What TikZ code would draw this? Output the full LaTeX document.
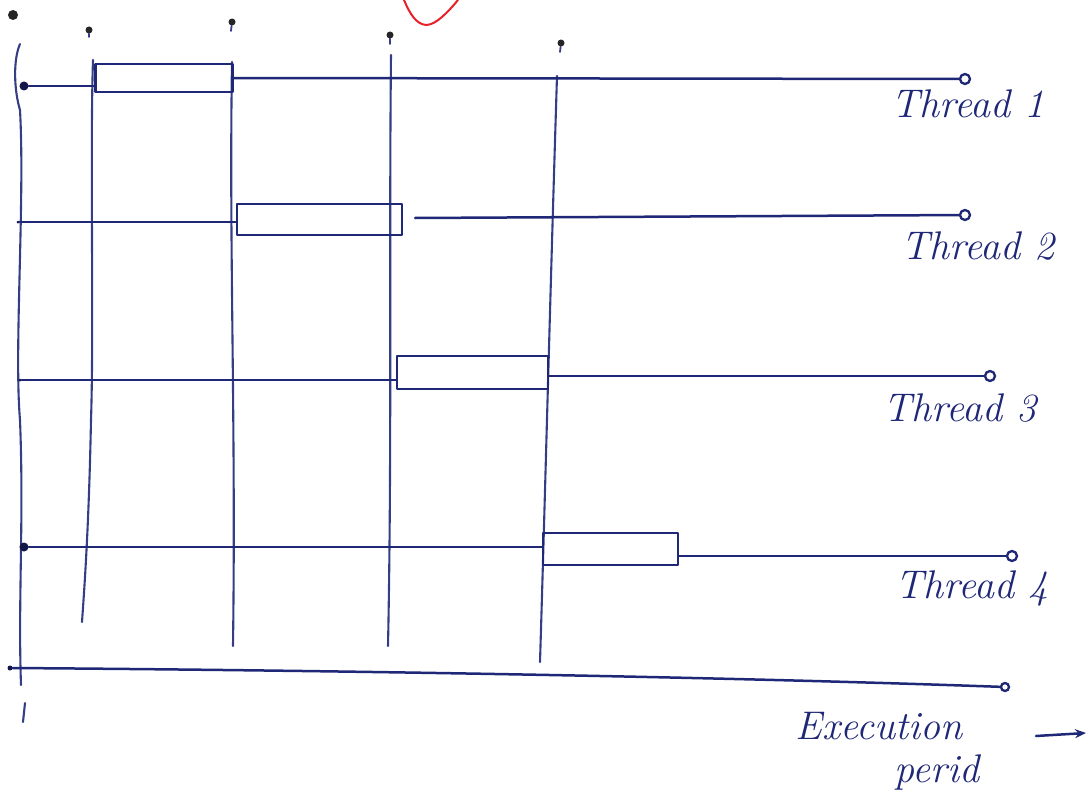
\documentclass[tikz,border=0pt]{standalone}
\usepackage{fontspec}
\usetikzlibrary{arrows.meta}
\definecolor{inkblue}{HTML}{1F2777}
\definecolor{inkred}{HTML}{E8202A}
\begin{document}
\begin{tikzpicture}[x=1pt,y=-1pt,
  ink/.style={draw=inkblue, line width=2.5pt, line cap=round, line join=round},
  grid/.style={draw=inkblue!90, line width=2.1pt, line cap=round},
  tbox/.style={ink, line width=2.8pt, rectangle, inner sep=0pt, fill=none},
  startdot/.style={circle, fill=inkblue!60!black, inner sep=0pt, minimum size=9pt},
  enddot/.style={circle, draw=inkblue, line width=2.3pt, fill=white, inner sep=0pt, minimum size=10pt},
  tick/.style={circle, fill=black!85, inner sep=0pt, minimum size=7pt},
  hand/.style={text=inkblue, font=\fontsize{40}{46}\selectfont\itshape, inner sep=0pt}]
\useasboundingbox (0,0) rectangle (1090,792);
% red check mark
\draw[inkred, line width=2pt] (404,0) .. controls (410,14) and (416,24) .. (426,25) .. controls (436,25) and (448,12) .. (458,0);
% vertical time lines
\node[tick, minimum size=10pt] (k0) at (13,15) {};
\node[tick] (k1) at (89,30) {};
\node[tick] (k2) at (232,22) {};
\node[tick] (k3) at (390,35) {};
\node[tick] (k4) at (561,43) {};
\coordinate (v0t) at (20,44);  \coordinate (v0b) at (21,685);
\coordinate (v1t) at (93,60);  \coordinate (v1b) at (82,622);
\coordinate (v2t) at (232,62); \coordinate (v2b) at (233,646);
\coordinate (v3t) at (391,55); \coordinate (v3b) at (388,646);
\coordinate (v4t) at (557,76); \coordinate (v4b) at (540,662);
\coordinate (v0x) at (25,703); \coordinate (v0y) at (23,722);
\draw[grid] (v0t) .. controls (13,60) and (14,90) .. (20,110) .. controls (25,200) and (14,350) .. (20,420) .. controls (24,520) and (18,600) .. (v0b);
\draw[grid] (v0x) -- (v0y);
\draw[grid] (v1t) .. controls (90,150) and (94,330) .. (91,420) .. controls (89,520) and (85,580) .. (v1b);
\draw[grid] (v2t) .. controls (229,250) and (236,420) .. (v2b);
\draw[grid] (v3t) .. controls (389,250) and (392,450) .. (v3b);
\draw[grid] (v4t) .. controls (550,300) and (545,500) .. (v4b);
\draw[grid, line width=1.8pt] (k1) -- ++(0,7);
\draw[grid, line width=1.8pt] (k2) -- ++(-1,9);
\draw[grid, line width=1.8pt] (k3) -- ++(0,9);
\draw[grid, line width=1.8pt] (k4) -- ++(-1,9);
% Thread 1
\node[startdot] (s1) at (24,86) {};
\node[tbox, minimum width=137pt, minimum height=28pt] (b1) at (164,78) {};
\coordinate (e1) at (965,79);
\draw[ink] (s1) -- (b1.west |- s1);
\draw[ink] (b1.east) -- (e1);
\node[enddot] (d1) at (e1) {};
\node[hand] (l1) at (968,104) {Thread 1};
% Thread 2
\node[startdot, minimum size=3pt] (s2) at (18,222) {};
\node[tbox, minimum width=165pt, minimum height=31pt] (b2) at (319.5,219.5) {};
\coordinate (g2) at (415,218);
\coordinate (e2) at (965,215);
\draw[ink] (s2) -- (b2.west |- s2);
\draw[ink] (g2) -- (e2);
\node[enddot] (d2) at (e2) {};
\node[hand] (l2) at (978,246) {Thread 2};
% Thread 3
\node[startdot, minimum size=3pt] (s3) at (20,380) {};
\node[tbox, minimum width=151pt, minimum height=33pt] (b3) at (472.5,372.5) {};
\coordinate (e3) at (990,376);
\draw[ink] (s3) -- (b3.west |- s3);
\draw[ink] (b3.east |- e3) -- (e3);
\node[enddot] (d3) at (e3) {};
\node[hand] (l3) at (960,408) {Thread 3};
% Thread 4
\node[startdot] (s4) at (24,547) {};
\node[tbox, minimum width=135pt, minimum height=32pt] (b4) at (610.5,549) {};
\coordinate (e4) at (1012,556);
\draw[ink] (s4) -- (b4.west |- s4);
\draw[ink] (b4.east |- e4) -- (e4);
\node[enddot] (d4) at (e4) {};
\node[hand] (l4) at (972,588) {Thread 4};
% Execution period axis
\node[startdot, minimum size=5pt] (s5) at (10,668) {};
\coordinate (e5) at (1005,687);
\draw[ink] (s5) .. controls (300,670) and (700,676) .. (e5);
\node[enddot, minimum size=8pt] (d5) at (e5) {};
\node[hand] (l5) at (879,726) {Execution};
\node[hand] (l6) at (937,772) {perid};
\coordinate (a0) at (1036,736);
\coordinate (a1) at (1086,733);
\draw[ink, -{Stealth[length=11pt,width=9pt]}] (a0) -- (a1);
\end{tikzpicture}
\end{document}
